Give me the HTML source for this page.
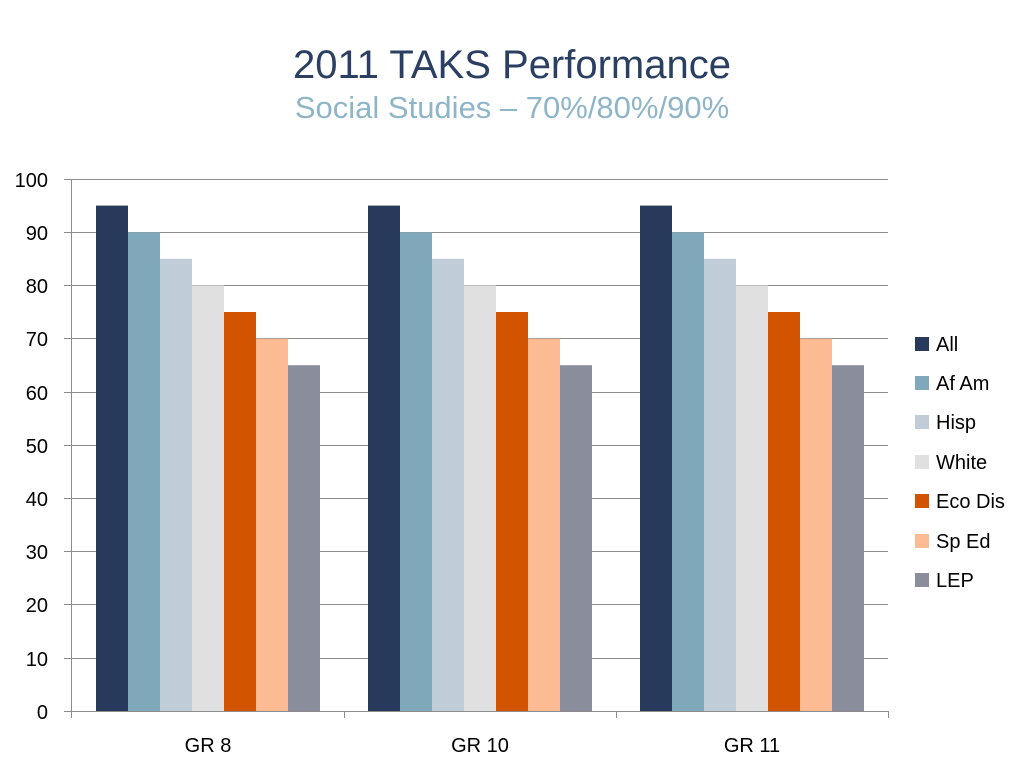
<!DOCTYPE html>
<html><head><meta charset="utf-8"><style>body{margin:0;background:#fff}svg{display:block}text{font-family:"Liberation Sans",Calibri,sans-serif}</style></head>
<body>
<svg width="1024" height="768" viewBox="0 0 1024 768" xmlns="http://www.w3.org/2000/svg">
<text x="512" y="78" text-anchor="middle" font-size="40" fill="#2b3f63">2011 TAKS Performance</text>
<text x="512" y="118" text-anchor="middle" font-size="31" fill="#8fb5c9">Social Studies – 70%/80%/90%</text>
<g stroke="#8c8c8c" stroke-width="1">
<line x1="64" y1="179.5" x2="888" y2="179.5"/><line x1="64" y1="232.5" x2="888" y2="232.5"/>
<line x1="64" y1="285.5" x2="888" y2="285.5"/><line x1="64" y1="338.5" x2="888" y2="338.5"/>
<line x1="64" y1="392.5" x2="888" y2="392.5"/><line x1="64" y1="445.5" x2="888" y2="445.5"/>
<line x1="64" y1="498.5" x2="888" y2="498.5"/><line x1="64" y1="551.5" x2="888" y2="551.5"/>
<line x1="64" y1="604.5" x2="888" y2="604.5"/><line x1="64" y1="658.5" x2="888" y2="658.5"/>
<line x1="64" y1="711.5" x2="888" y2="711.5"/>
<line x1="71.5" y1="179" x2="71.5" y2="718"/>
<line x1="344.5" y1="711" x2="344.5" y2="718"/><line x1="616.5" y1="711" x2="616.5" y2="718"/><line x1="888.5" y1="711" x2="888.5" y2="718"/>
</g>
<g font-size="20" fill="#000" text-anchor="end">
<text x="48" y="187">100</text><text x="48" y="240">90</text><text x="48" y="293">80</text><text x="48" y="346">70</text><text x="48" y="400">60</text><text x="48" y="453">50</text><text x="48" y="506">40</text><text x="48" y="559">30</text><text x="48" y="612">20</text><text x="48" y="666">10</text><text x="48" y="719">0</text>
</g>
<g>
<rect x="96" y="205.6" width="32" height="505.4" fill="#283a5c"/>
<rect x="128" y="232.2" width="32" height="478.8" fill="#7fa8ba"/>
<rect x="160" y="258.8" width="32" height="452.2" fill="#c0ccd8"/>
<rect x="192" y="285.4" width="32" height="425.6" fill="#e0e0e0"/>
<rect x="224" y="312" width="32" height="399" fill="#d35400"/>
<rect x="256" y="338.6" width="32" height="372.4" fill="#fdbb93"/>
<rect x="288" y="365.2" width="32" height="345.8" fill="#8a8e9c"/>
</g>
<g transform="translate(272,0)">
<rect x="96" y="205.6" width="32" height="505.4" fill="#283a5c"/>
<rect x="128" y="232.2" width="32" height="478.8" fill="#7fa8ba"/>
<rect x="160" y="258.8" width="32" height="452.2" fill="#c0ccd8"/>
<rect x="192" y="285.4" width="32" height="425.6" fill="#e0e0e0"/>
<rect x="224" y="312" width="32" height="399" fill="#d35400"/>
<rect x="256" y="338.6" width="32" height="372.4" fill="#fdbb93"/>
<rect x="288" y="365.2" width="32" height="345.8" fill="#8a8e9c"/>
</g>
<g transform="translate(544,0)">
<rect x="96" y="205.6" width="32" height="505.4" fill="#283a5c"/>
<rect x="128" y="232.2" width="32" height="478.8" fill="#7fa8ba"/>
<rect x="160" y="258.8" width="32" height="452.2" fill="#c0ccd8"/>
<rect x="192" y="285.4" width="32" height="425.6" fill="#e0e0e0"/>
<rect x="224" y="312" width="32" height="399" fill="#d35400"/>
<rect x="256" y="338.6" width="32" height="372.4" fill="#fdbb93"/>
<rect x="288" y="365.2" width="32" height="345.8" fill="#8a8e9c"/>
</g>
<g font-size="20" text-anchor="middle">
<text x="208" y="752">GR 8</text><text x="480" y="752">GR 10</text><text x="752" y="752">GR 11</text>
</g>
<g font-size="20">
<rect x="915" y="337" width="14" height="14" fill="#283a5c"/><text x="936" y="351">All</text>
<rect x="915" y="376" width="14" height="14" fill="#7fa8ba"/><text x="936" y="390">Af Am</text>
<rect x="915" y="415" width="14" height="14" fill="#c0ccd8"/><text x="936" y="429">Hisp</text>
<rect x="915" y="455" width="14" height="14" fill="#e0e0e0"/><text x="936" y="469">White</text>
<rect x="915" y="494" width="14" height="14" fill="#d35400"/><text x="936" y="508">Eco Dis</text>
<rect x="915" y="534" width="14" height="14" fill="#fdbb93"/><text x="936" y="548">Sp Ed</text>
<rect x="915" y="573" width="14" height="14" fill="#8a8e9c"/><text x="936" y="587">LEP</text>
</g>
</svg>
</body></html>
